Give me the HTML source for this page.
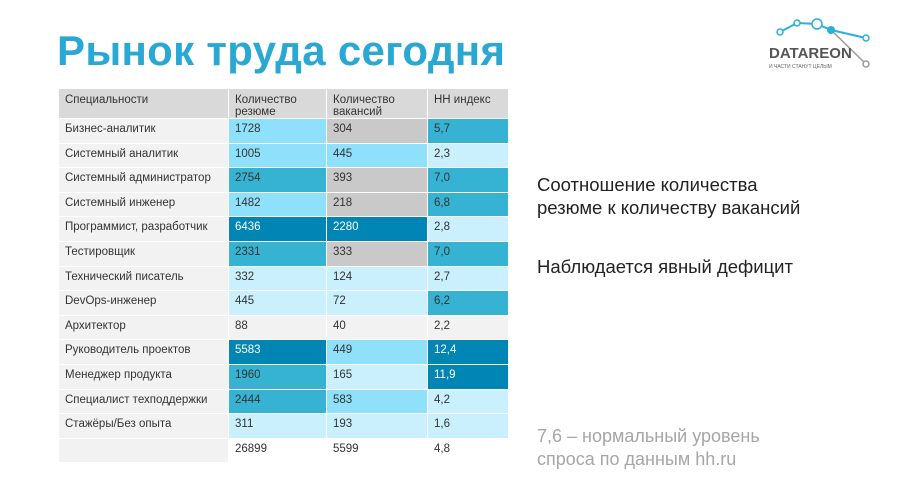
<!DOCTYPE html>
<html><head><meta charset="utf-8"><style>
body{margin:0;width:900px;height:480px;background:#fff;position:relative;overflow:hidden;font-family:"Liberation Sans","DejaVu Sans",sans-serif;}
.t{position:absolute;left:57px;top:27px;font-size:42px;font-weight:bold;color:#2aa8d4;letter-spacing:0.3px;white-space:nowrap}
table{position:absolute;left:58px;top:88px;border-collapse:collapse;font-size:11.5px;color:#333}
td{border:1px solid #fff;padding:0 0 0 6px;height:23px;vertical-align:top;padding-top:4px;box-sizing:border-box;line-height:12px}
td:nth-child(1){width:170px;background:#f2f2f2}
td:nth-child(2){width:98px;background:#f2f2f2}
td:nth-child(3){width:101px;background:#f2f2f2}
td:nth-child(4){width:81px;background:#f2f2f2}
tr.h td{background:#d9d9d9;height:29px;padding-top:5px}
tr{height:24.6px}
td.l{background:#c9f0fc!important}td.m{background:#8fe0fa!important}td.k{background:#36b3d3!important}td.d{background:#0085b5!important;color:#fff}td.g{background:#c9c9c9!important}td.w{background:#fff!important}
.r{position:absolute;left:537px;font-size:18.5px;color:#222;line-height:23px}
</style></head><body>
<div class="t">Рынок труда сегодня</div>
<svg style="position:absolute;left:760px;top:16px" width="110" height="60">
<polyline points="20,16 37,7 57,8 71,14 106,22" fill="none" stroke="#2ab0dc" stroke-width="2"/>
<line x1="71" y1="14" x2="106" y2="48" stroke="#999" stroke-width="1.5"/>
<circle cx="20" cy="16" r="3" fill="#fff" stroke="#2ab0dc" stroke-width="1.5"/>
<circle cx="37" cy="7" r="3" fill="#fff" stroke="#2ab0dc" stroke-width="1.5"/>
<circle cx="57" cy="8" r="5" fill="#fff" stroke="#2ab0dc" stroke-width="1.5"/>
<circle cx="71" cy="14" r="4" fill="#2ab0dc"/>
<circle cx="106" cy="22" r="3" fill="#fff" stroke="#2ab0dc" stroke-width="1.5"/>
<circle cx="106" cy="48" r="3" fill="#fff" stroke="#999" stroke-width="1.5"/>
<text x="9" y="42" font-size="15" font-weight="bold" fill="#555" font-family="Liberation Sans,sans-serif">DATAREON</text>
<text x="9" y="52" font-size="5" fill="#666" font-family="Liberation Sans,sans-serif">И ЧАСТИ СТАНУТ ЦЕЛЫМ</text>
</svg>
<table>
<tr class="h"><td>Специальности</td><td>Количество<br>резюме</td><td>Количество<br>вакансий</td><td>HH индекс</td></tr>
<tr><td>Бизнес-аналитик</td><td class="m">1728</td><td class="g">304</td><td class="k">5,7</td></tr>
<tr><td>Системный аналитик</td><td class="m">1005</td><td class="m">445</td><td class="l">2,3</td></tr>
<tr><td>Системный администратор</td><td class="k">2754</td><td class="g">393</td><td class="k">7,0</td></tr>
<tr><td>Системный инженер</td><td class="m">1482</td><td class="g">218</td><td class="k">6,8</td></tr>
<tr><td>Программист, разработчик</td><td class="d">6436</td><td class="d">2280</td><td class="l">2,8</td></tr>
<tr><td>Тестировщик</td><td class="k">2331</td><td class="g">333</td><td class="k">7,0</td></tr>
<tr><td>Технический писатель</td><td class="l">332</td><td class="l">124</td><td class="l">2,7</td></tr>
<tr><td>DevOps-инженер</td><td class="l">445</td><td class="l">72</td><td class="k">6,2</td></tr>
<tr><td>Архитектор</td><td>88</td><td>40</td><td>2,2</td></tr>
<tr><td>Руководитель проектов</td><td class="d">5583</td><td class="m">449</td><td class="d">12,4</td></tr>
<tr><td>Менеджер продукта</td><td class="k">1960</td><td class="l">165</td><td class="d">11,9</td></tr>
<tr><td>Специалист техподдержки</td><td class="k">2444</td><td class="m">583</td><td class="l">4,2</td></tr>
<tr><td>Стажёры/Без опыта</td><td class="l">311</td><td class="l">193</td><td class="l">1,6</td></tr>
<tr><td></td><td class="w">26899</td><td class="w">5599</td><td class="w">4,8</td></tr>
</table>
<div class="r" style="top:173px">Соотношение количества<br>резюме к количеству вакансий</div>
<div class="r" style="top:255px">Наблюдается явный дефицит</div>
<div class="r" style="top:425px;color:#a6a6a6;font-size:18px">7,6 – нормальный уровень<br>спроса по данным hh.ru</div>
</body></html>
